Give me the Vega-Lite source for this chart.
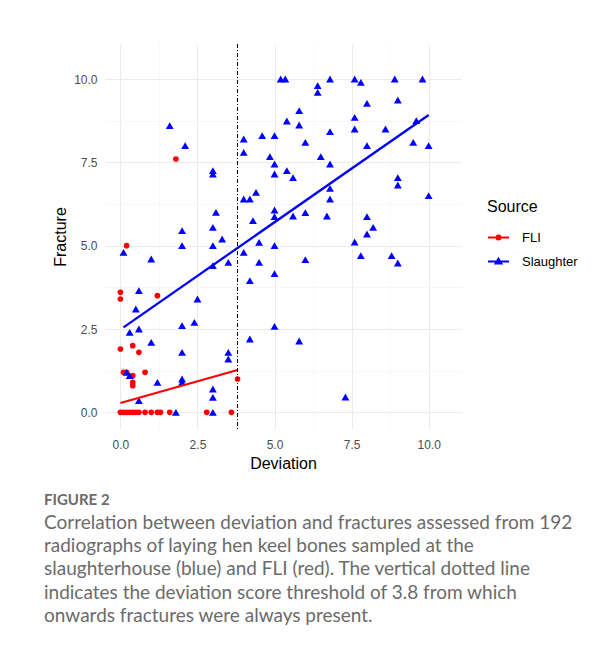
{
  "$schema": "https://vega.github.io/schema/vega-lite/v6.json",
  "autosize": "none",
  "width": 356,
  "height": 385,
  "padding": {"left": 105, "top": 44, "right": 155, "bottom": 221},
  "background": "white",
  "config": {
    "view": {"stroke": null},
    "axis": {
      "domain": false,
      "ticks": false,
      "tickSize": 0,
      "labelFont": "Liberation Sans",
      "labelFontSize": 12,
      "labelColor": "#4d4d4d",
      "labelOverlap": false,
      "labelFlush": false,
      "titleFont": "Liberation Sans",
      "titleFontSize": 16,
      "titleFontWeight": "normal",
      "titleColor": "#000000",
      "gridColor": {"condition": {"test": "datum.value % 2.5 === 0", "value": "#ebebeb"}, "value": "#f3f3f3"},
      "gridWidth": {"condition": {"test": "datum.value % 2.5 === 0", "value": 1}, "value": 0.6}
    }
  },
  "title": {
    "text": "FIGURE 2",
    "subtitle": [
      "Correlation between deviation and fractures assessed from 192",
      "radiographs of laying hen keel bones sampled at the",
      "slaughterhouse (blue) and FLI (red). The vertical dotted line",
      "indicates the deviation score threshold of 3.8 from which",
      "onwards fractures were always present."
    ],
    "orient": "bottom",
    "anchor": "start",
    "frame": "group",
    "dx": -61,
    "offset": 22,
    "font": "Lato",
    "fontSize": 15,
    "fontWeight": 700,
    "color": "#6b6b6b",
    "subtitleFont": "Lato",
    "subtitleFontSize": 19,
    "subtitleFontWeight": "normal",
    "subtitleColor": "#6b6b6b",
    "subtitleLineHeight": 23.2,
    "subtitlePadding": 6
  },
  "datasets": {
    "points": [
      {"Source": "FLI", "Deviation": 0, "Fracture": 1.9},
      {"Source": "FLI", "Deviation": 0.4, "Fracture": 2.0},
      {"Source": "FLI", "Deviation": 0.6, "Fracture": 1.8},
      {"Source": "FLI", "Deviation": 0.1, "Fracture": 1.2},
      {"Source": "FLI", "Deviation": 0.2, "Fracture": 1.2},
      {"Source": "FLI", "Deviation": 0.4, "Fracture": 1.1},
      {"Source": "FLI", "Deviation": 0.4, "Fracture": 0.9},
      {"Source": "FLI", "Deviation": 0.4, "Fracture": 0.8},
      {"Source": "FLI", "Deviation": 0.8, "Fracture": 1.2},
      {"Source": "FLI", "Deviation": 3.8, "Fracture": 1.0},
      {"Source": "FLI", "Deviation": 0, "Fracture": 0},
      {"Source": "FLI", "Deviation": 0.1, "Fracture": 0},
      {"Source": "FLI", "Deviation": 0.2, "Fracture": 0},
      {"Source": "FLI", "Deviation": 0.3, "Fracture": 0},
      {"Source": "FLI", "Deviation": 0.4, "Fracture": 0},
      {"Source": "FLI", "Deviation": 0.5, "Fracture": 0},
      {"Source": "FLI", "Deviation": 0.6, "Fracture": 0},
      {"Source": "FLI", "Deviation": 0.8, "Fracture": 0},
      {"Source": "FLI", "Deviation": 1.0, "Fracture": 0},
      {"Source": "FLI", "Deviation": 1.2, "Fracture": 0},
      {"Source": "FLI", "Deviation": 1.3, "Fracture": 0},
      {"Source": "FLI", "Deviation": 1.6, "Fracture": 0},
      {"Source": "FLI", "Deviation": 2.8, "Fracture": 0},
      {"Source": "FLI", "Deviation": 3.6, "Fracture": 0},
      {"Source": "FLI", "Deviation": 0.2, "Fracture": 5.0},
      {"Source": "FLI", "Deviation": 0, "Fracture": 3.6},
      {"Source": "FLI", "Deviation": 0, "Fracture": 3.4},
      {"Source": "FLI", "Deviation": 1.2, "Fracture": 3.5},
      {"Source": "FLI", "Deviation": 1.8, "Fracture": 7.6},
      {"Source": "Slaughter", "Deviation": 0.3, "Fracture": 2.4},
      {"Source": "Slaughter", "Deviation": 0.6, "Fracture": 2.5},
      {"Source": "Slaughter", "Deviation": 1.0, "Fracture": 2.1},
      {"Source": "Slaughter", "Deviation": 2.0, "Fracture": 2.6},
      {"Source": "Slaughter", "Deviation": 2.4, "Fracture": 2.7},
      {"Source": "Slaughter", "Deviation": 2.0, "Fracture": 1.8},
      {"Source": "Slaughter", "Deviation": 3.5, "Fracture": 1.8},
      {"Source": "Slaughter", "Deviation": 3.5, "Fracture": 1.6},
      {"Source": "Slaughter", "Deviation": 4.2, "Fracture": 2.2},
      {"Source": "Slaughter", "Deviation": 0.2, "Fracture": 1.2},
      {"Source": "Slaughter", "Deviation": 0.3, "Fracture": 1.1},
      {"Source": "Slaughter", "Deviation": 1.2, "Fracture": 0.9},
      {"Source": "Slaughter", "Deviation": 2.0, "Fracture": 1.0},
      {"Source": "Slaughter", "Deviation": 2.0, "Fracture": 0.9},
      {"Source": "Slaughter", "Deviation": 0.6, "Fracture": 0.35},
      {"Source": "Slaughter", "Deviation": 1.8, "Fracture": 0},
      {"Source": "Slaughter", "Deviation": 3.0, "Fracture": 0.7},
      {"Source": "Slaughter", "Deviation": 3.0, "Fracture": 0.45},
      {"Source": "Slaughter", "Deviation": 3.0, "Fracture": 0},
      {"Source": "Slaughter", "Deviation": 0.1, "Fracture": 4.8},
      {"Source": "Slaughter", "Deviation": 1.0, "Fracture": 4.6},
      {"Source": "Slaughter", "Deviation": 0.6, "Fracture": 3.65},
      {"Source": "Slaughter", "Deviation": 0.5, "Fracture": 3.1},
      {"Source": "Slaughter", "Deviation": 2.0, "Fracture": 5.45},
      {"Source": "Slaughter", "Deviation": 2.0, "Fracture": 5.0},
      {"Source": "Slaughter", "Deviation": 3.0, "Fracture": 5.55},
      {"Source": "Slaughter", "Deviation": 3.1, "Fracture": 6.0},
      {"Source": "Slaughter", "Deviation": 3.0, "Fracture": 5.0},
      {"Source": "Slaughter", "Deviation": 3.3, "Fracture": 5.2},
      {"Source": "Slaughter", "Deviation": 3.0, "Fracture": 4.4},
      {"Source": "Slaughter", "Deviation": 3.5, "Fracture": 4.5},
      {"Source": "Slaughter", "Deviation": 2.5, "Fracture": 3.4},
      {"Source": "Slaughter", "Deviation": 4.0, "Fracture": 6.4},
      {"Source": "Slaughter", "Deviation": 4.2, "Fracture": 6.4},
      {"Source": "Slaughter", "Deviation": 4.4, "Fracture": 6.6},
      {"Source": "Slaughter", "Deviation": 4.3, "Fracture": 5.75},
      {"Source": "Slaughter", "Deviation": 4.0, "Fracture": 4.8},
      {"Source": "Slaughter", "Deviation": 4.2, "Fracture": 3.95},
      {"Source": "Slaughter", "Deviation": 1.6, "Fracture": 8.6},
      {"Source": "Slaughter", "Deviation": 2.1, "Fracture": 8.0},
      {"Source": "Slaughter", "Deviation": 3.0, "Fracture": 7.25},
      {"Source": "Slaughter", "Deviation": 3.0, "Fracture": 7.15},
      {"Source": "Slaughter", "Deviation": 4.0, "Fracture": 8.2},
      {"Source": "Slaughter", "Deviation": 4.0, "Fracture": 7.8},
      {"Source": "Slaughter", "Deviation": 5.2, "Fracture": 10},
      {"Source": "Slaughter", "Deviation": 5.35, "Fracture": 10},
      {"Source": "Slaughter", "Deviation": 6.8, "Fracture": 10},
      {"Source": "Slaughter", "Deviation": 7.6, "Fracture": 10},
      {"Source": "Slaughter", "Deviation": 7.8, "Fracture": 9.9},
      {"Source": "Slaughter", "Deviation": 8.9, "Fracture": 10},
      {"Source": "Slaughter", "Deviation": 9.8, "Fracture": 10},
      {"Source": "Slaughter", "Deviation": 6.4, "Fracture": 9.8},
      {"Source": "Slaughter", "Deviation": 6.4, "Fracture": 9.6},
      {"Source": "Slaughter", "Deviation": 8.0, "Fracture": 9.27},
      {"Source": "Slaughter", "Deviation": 9.0, "Fracture": 9.37},
      {"Source": "Slaughter", "Deviation": 5.8, "Fracture": 9.05},
      {"Source": "Slaughter", "Deviation": 5.4, "Fracture": 8.74},
      {"Source": "Slaughter", "Deviation": 5.8, "Fracture": 8.62},
      {"Source": "Slaughter", "Deviation": 7.6, "Fracture": 8.85},
      {"Source": "Slaughter", "Deviation": 7.6, "Fracture": 8.5},
      {"Source": "Slaughter", "Deviation": 8.6, "Fracture": 8.5},
      {"Source": "Slaughter", "Deviation": 9.6, "Fracture": 8.75},
      {"Source": "Slaughter", "Deviation": 4.6, "Fracture": 8.3},
      {"Source": "Slaughter", "Deviation": 5.0, "Fracture": 8.3},
      {"Source": "Slaughter", "Deviation": 6.8, "Fracture": 8.42},
      {"Source": "Slaughter", "Deviation": 6.0, "Fracture": 8.1},
      {"Source": "Slaughter", "Deviation": 8.0, "Fracture": 8.0},
      {"Source": "Slaughter", "Deviation": 9.5, "Fracture": 8.1},
      {"Source": "Slaughter", "Deviation": 10, "Fracture": 8.0},
      {"Source": "Slaughter", "Deviation": 4.85, "Fracture": 7.67},
      {"Source": "Slaughter", "Deviation": 5.0, "Fracture": 7.45},
      {"Source": "Slaughter", "Deviation": 5.0, "Fracture": 7.15},
      {"Source": "Slaughter", "Deviation": 5.4, "Fracture": 7.25},
      {"Source": "Slaughter", "Deviation": 5.6, "Fracture": 7.04},
      {"Source": "Slaughter", "Deviation": 6.5, "Fracture": 7.67},
      {"Source": "Slaughter", "Deviation": 6.8, "Fracture": 7.45},
      {"Source": "Slaughter", "Deviation": 9.0, "Fracture": 7.04},
      {"Source": "Slaughter", "Deviation": 9.0, "Fracture": 6.82},
      {"Source": "Slaughter", "Deviation": 10, "Fracture": 6.5},
      {"Source": "Slaughter", "Deviation": 6.8, "Fracture": 6.72},
      {"Source": "Slaughter", "Deviation": 6.8, "Fracture": 6.4},
      {"Source": "Slaughter", "Deviation": 5.0, "Fracture": 6.07},
      {"Source": "Slaughter", "Deviation": 5.0, "Fracture": 5.87},
      {"Source": "Slaughter", "Deviation": 5.6, "Fracture": 5.89},
      {"Source": "Slaughter", "Deviation": 6.0, "Fracture": 5.99},
      {"Source": "Slaughter", "Deviation": 6.7, "Fracture": 5.89},
      {"Source": "Slaughter", "Deviation": 8.0, "Fracture": 5.87},
      {"Source": "Slaughter", "Deviation": 8.2, "Fracture": 5.55},
      {"Source": "Slaughter", "Deviation": 4.5, "Fracture": 5.1},
      {"Source": "Slaughter", "Deviation": 5.0, "Fracture": 5.0},
      {"Source": "Slaughter", "Deviation": 4.5, "Fracture": 4.5},
      {"Source": "Slaughter", "Deviation": 5.0, "Fracture": 4.16},
      {"Source": "Slaughter", "Deviation": 6.0, "Fracture": 4.58},
      {"Source": "Slaughter", "Deviation": 7.6, "Fracture": 5.11},
      {"Source": "Slaughter", "Deviation": 8.0, "Fracture": 5.35},
      {"Source": "Slaughter", "Deviation": 7.8, "Fracture": 4.7},
      {"Source": "Slaughter", "Deviation": 8.8, "Fracture": 4.7},
      {"Source": "Slaughter", "Deviation": 9.0, "Fracture": 4.48},
      {"Source": "Slaughter", "Deviation": 5.0, "Fracture": 2.58},
      {"Source": "Slaughter", "Deviation": 5.8, "Fracture": 2.14},
      {"Source": "Slaughter", "Deviation": 7.3, "Fracture": 0.46}
    ],
    "fits": [
      {"Source": "FLI", "Deviation": 0, "Fracture": 0.28},
      {"Source": "FLI", "Deviation": 3.8, "Fracture": 1.27},
      {"Source": "Slaughter", "Deviation": 0.1, "Fracture": 2.55},
      {"Source": "Slaughter", "Deviation": 10, "Fracture": 8.92}
    ],
    "threshold": [
      {"Deviation": 3.8}
    ]
  },
  "resolve": {"scale": {"shape": "independent", "fill": "independent", "stroke": "independent"}},
  "layer": [
    {
      "data": {"name": "points"},
      "mark": {"type": "point", "filled": true, "opacity": 1},
      "encoding": {
        "x": {
          "field": "Deviation",
          "type": "quantitative",
          "scale": {"domain": [-0.5, 11.05], "nice": false, "zero": false},
          "axis": {
            "title": "Deviation",
            "values": [0, 1.25, 2.5, 3.75, 5, 6.25, 7.5, 8.75, 10],
            "labelExpr": "datum.value % 2.5 === 0 ? format(datum.value, '.1f') : ''",
            "grid": true,
            "labelPadding": 10,
            "titlePadding": 5
          }
        },
        "y": {
          "field": "Fracture",
          "type": "quantitative",
          "scale": {"domain": [-0.5, 11.05], "nice": false, "zero": false},
          "axis": {
            "title": "Fracture",
            "values": [0, 1.25, 2.5, 3.75, 5, 6.25, 7.5, 8.75, 10],
            "labelExpr": "datum.value % 2.5 === 0 ? format(datum.value, '.1f') : ''",
            "grid": true,
            "labelPadding": 8,
            "titlePadding": 5
          }
        },
        "color": {
          "field": "Source",
          "type": "nominal",
          "scale": {"domain": ["FLI", "Slaughter"], "range": ["#ff0000", "#0000ff"]},
          "legend": null
        },
        "shape": {
          "field": "Source",
          "type": "nominal",
          "scale": {"domain": ["FLI", "Slaughter"], "range": ["circle", "triangle-up"]},
          "legend": null
        },
        "size": {
          "field": "Source",
          "type": "nominal",
          "scale": {"domain": ["FLI", "Slaughter"], "range": [32, 62]},
          "legend": null
        }
      }
    },
    {
      "data": {"name": "fits"},
      "mark": {"type": "line", "strokeWidth": 2.3},
      "encoding": {
        "x": {"field": "Deviation", "type": "quantitative"},
        "y": {"field": "Fracture", "type": "quantitative"},
        "color": {"field": "Source", "type": "nominal", "legend": null}
      }
    },
    {
      "data": {"name": "threshold"},
      "mark": {"type": "rule", "color": "#000000", "strokeWidth": 1, "strokeDash": [4, 2, 1, 2]},
      "encoding": {
        "x": {"field": "Deviation", "type": "quantitative"}
      }
    },
    {
      "data": {"name": "points"},
      "transform": [{"filter": "false"}],
      "mark": {"type": "point", "filled": true},
      "encoding": {
        "x": {"field": "Deviation", "type": "quantitative"},
        "y": {"field": "Fracture", "type": "quantitative"},
        "fill": {
          "field": "Source",
          "type": "nominal",
          "scale": {"domain": ["FLI", "Slaughter"], "range": ["#ff0000", "#0000ff"]},
          "legend": {
            "orient": "none", "legendX": 382, "legendY": 155, "title": "Source",
            "titleFont": "Liberation Sans", "titleFontSize": 16, "titleFontWeight": "normal", "titleColor": "#000000", "titlePadding": 11,
            "labelFont": "Liberation Sans", "labelFontSize": 13, "labelColor": "#000000", "labelOffset": 12,
            "symbolSize": 441, "symbolStrokeWidth": 2, "symbolOpacity": 1, "rowPadding": 5, "padding": 0
          }
        },
        "stroke": {
          "field": "Source",
          "type": "nominal",
          "scale": {"domain": ["FLI", "Slaughter"], "range": ["#ff0000", "#0000ff"]},
          "legend": {
            "orient": "none", "legendX": 382, "legendY": 155, "title": "Source",
            "titleFont": "Liberation Sans", "titleFontSize": 16, "titleFontWeight": "normal", "titleColor": "#000000", "titlePadding": 11,
            "labelFont": "Liberation Sans", "labelFontSize": 13, "labelColor": "#000000", "labelOffset": 12,
            "symbolSize": 441, "symbolStrokeWidth": 2, "symbolOpacity": 1, "rowPadding": 5, "padding": 0
          }
        },
        "shape": {
          "field": "Source",
          "type": "nominal",
          "scale": {
            "domain": ["FLI", "Slaughter"],
            "range": [
              "M-1,0H1M0.19,0A0.19,0.19 0 1,1 -0.19,0A0.19,0.19 0 1,1 0.19,0Z",
              "M-1,0H1M0,-0.27L0.28,0.2L-0.28,0.2Z"
            ]
          },
          "legend": {
            "orient": "none", "legendX": 382, "legendY": 155, "title": "Source",
            "titleFont": "Liberation Sans", "titleFontSize": 16, "titleFontWeight": "normal", "titleColor": "#000000", "titlePadding": 11,
            "labelFont": "Liberation Sans", "labelFontSize": 13, "labelColor": "#000000", "labelOffset": 12,
            "symbolSize": 441, "symbolStrokeWidth": 2, "symbolOpacity": 1, "rowPadding": 5, "padding": 0
          }
        }
      }
    }
  ]
}
